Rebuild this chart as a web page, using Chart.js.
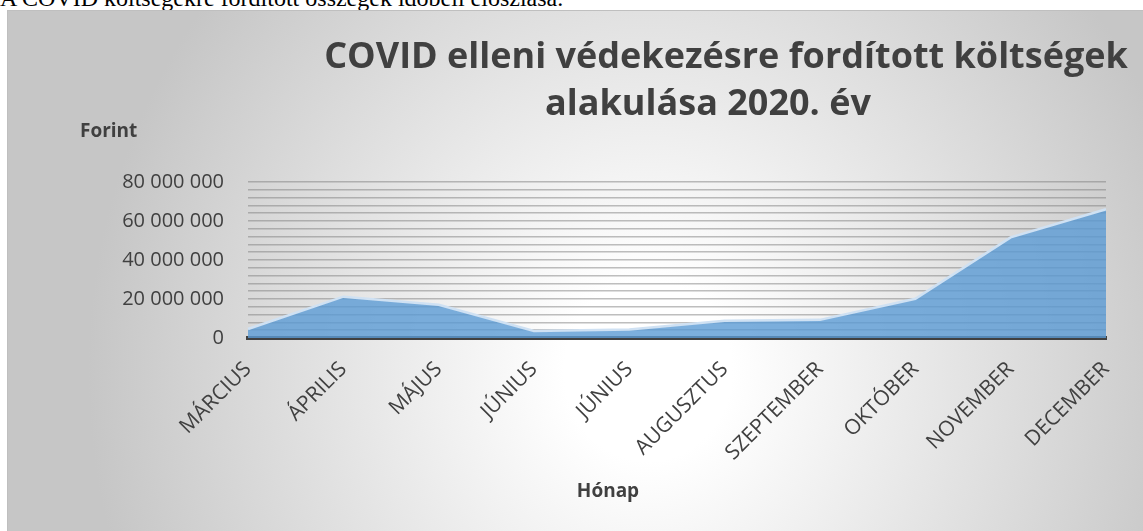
<!DOCTYPE html>
<html lang="hu">
<head>
<meta charset="utf-8">
<title>COVID költségek 2020</title>
<script src="https://cdn.jsdelivr.net/npm/chart.js@4.4.1/dist/chart.umd.min.js"></script>
<style>
  html, body { margin: 0; padding: 0; background: #fff; overflow: hidden; }
  #felirat {
    position: absolute; left: 0; top: -14px;
    font: 24px "Liberation Serif", "Times New Roman", serif;
    line-height: 24px; color: #000; white-space: nowrap;
  }
  #doboz {
    position: absolute; left: 7px; top: 10px; width: 1140px; height: 525px;
    border: 1px solid #bfbfbf;
    background: radial-gradient(ellipse 560px 600px at 640px 360px, #ffffff 0%, #ffffff 15%, #c6c6c6 100%);
  }
  #grafikon { position: absolute; left: 0; top: 0; }
</style>
</head>
<body>
<div id="felirat">A COVID költségekre fordított összegek időbeli eloszlása.</div>
<div id="doboz"><canvas id="grafikon" width="1136" height="521"></canvas></div>
<script>
// Adatok
const honapok = ['MÁRCIUS', 'ÁPRILIS', 'MÁJUS', 'JÚNIUS', 'JÚNIUS', 'AUGUSZTUS', 'SZEPTEMBER', 'OKTÓBER', 'NOVEMBER', 'DECEMBER'];
const koltsegek = [4600000, 21200000, 17000000, 3600000, 4300000, 8800000, 9300000, 20100000, 51600000, 66000000];
const yMax = 80000000;
const yLepes = 4000000;       // minden rácsvonal
const yCimkeLepes = 20000000; // csak ezeknél van felirat
const cimSorok = ['COVID elleni védekezésre fordított költségek', 'alakulása 2020. év'];
const yCim = 'Forint';
const xCim = 'Hónap';

const szurke = '#404040';

// Szám formázása szóközös ezres tagolással
function formaz(v) {
    return String(v).replace(/\B(?=(\d{3})+(?!\d))/g, ' ');
}

// Cím és tengelycímek kirajzolása
const szovegek = {
    id: 'szovegek',
    afterDraw(chart) {
        const ctx = chart.ctx;
        ctx.save();
        ctx.fillStyle = szurke;
        ctx.textBaseline = 'alphabetic';
        ctx.textAlign = 'center';
        ctx.font = 'bold 36px "Open Sans"';
        ctx.fillText(cimSorok[0], 718, 57);
        ctx.fillText(cimSorok[1], 700, 104);
        ctx.font = 'bold 19px "Open Sans"';
        ctx.fillText(xCim, 600, 486);
        ctx.textAlign = 'left';
        ctx.fillText(yCim, 72, 126);
        ctx.restore();
    }
};

const ctx = document.getElementById('grafikon').getContext('2d');

new Chart(ctx, {
    type: 'line',
    data: {
        labels: honapok,
        datasets: [{
            data: koltsegek,
            fill: 'origin',
            backgroundColor: 'rgba(91, 155, 213, 0.8)',
            borderColor: '#cfe1f3',
            borderWidth: 2.5,
            pointRadius: 0,
            tension: 0
        }]
    },
    options: {
        responsive: false,
        animation: false,
        layout: { padding: { left: 0, top: 171, right: 38, bottom: 0 } },
        plugins: {
            legend: { display: false },
            title: { display: false },
            tooltip: { enabled: false }
        },
        scales: {
            x: {
                offset: false,
                grid: { display: false },
                border: { display: true, color: szurke, width: 4 },
                ticks: {
                    autoSkip: false,
                    minRotation: 45,
                    maxRotation: 45,
                    padding: 11,
                    color: szurke,
                    font: { family: 'Open Sans', size: 21 }
                },
                afterFit(scale) { scale.height = 194; }
            },
            y: {
                min: 0,
                max: yMax,
                grid: { color: 'rgba(125, 125, 125, 0.5)', lineWidth: 1.6, drawTicks: false },
                border: { display: false },
                ticks: {
                    stepSize: yLepes,
                    maxTicksLimit: 50,
                    autoSkip: false,
                    padding: 24,
                    color: szurke,
                    font: { family: 'Open Sans', size: 20 },
                    callback: function(v) {
                        return v % yCimkeLepes === 0 ? formaz(v) : '';
                    }
                },
                afterFit(scale) { scale.width = 240; }
            }
        }
    },
    plugins: [szovegek]
});
</script>
</body>
</html>
